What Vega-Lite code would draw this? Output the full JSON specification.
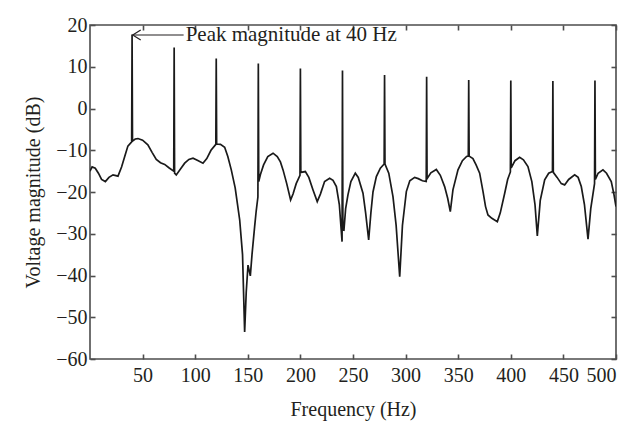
{
  "$schema": "https://vega.github.io/schema/vega-lite/v6.json",
  "width": 526,
  "height": 334,
  "autosize": "none",
  "padding": {"left": 90, "top": 25, "right": 21, "bottom": 62},
  "background": "white",
  "config": {
    "font": "Liberation Serif",
    "view": {"stroke": "#4d4d4d", "strokeWidth": 1.6},
    "axis": {
      "domain": false,
      "grid": false,
      "tickColor": "#4d4d4d",
      "tickWidth": 1.6,
      "tickSize": -5,
      "labelFont": "Liberation Serif",
      "labelFontSize": 20,
      "labelColor": "#231f20",
      "titleFont": "Liberation Serif",
      "titleFontSize": 20,
      "titleFontWeight": "normal",
      "titleColor": "#231f20"
    }
  },
  "datasets": {
    "spec": [
      {"f": 0, "v": -15}, {"f": 2, "v": -14}, {"f": 5, "v": -14.3}, {"f": 8, "v": -15.5}, {"f": 11, "v": -17},
      {"f": 14.6, "v": -17.5}, {"f": 18, "v": -16.5}, {"f": 21.9, "v": -15.9}, {"f": 26.6, "v": -16.2}, {"f": 30, "v": -14},
      {"f": 33, "v": -11.5}, {"f": 36, "v": -9}, {"f": 39.6, "v": -8}, {"f": 40, "v": 17.7}, {"f": 40.4, "v": -7.8},
      {"f": 43, "v": -7.3}, {"f": 45.6, "v": -7.2}, {"f": 50, "v": -7.6}, {"f": 55, "v": -8.7}, {"f": 59, "v": -10.5},
      {"f": 63, "v": -12.2}, {"f": 67, "v": -13}, {"f": 71, "v": -13.4}, {"f": 75, "v": -14.2}, {"f": 79.6, "v": -15},
      {"f": 80, "v": 14.6}, {"f": 80.4, "v": -15.5}, {"f": 82, "v": -15.9}, {"f": 86, "v": -14.5}, {"f": 90, "v": -13.1},
      {"f": 94, "v": -12.2}, {"f": 97.9, "v": -11.9}, {"f": 102, "v": -12.4}, {"f": 107.4, "v": -13.1}, {"f": 111, "v": -12},
      {"f": 115, "v": -10}, {"f": 119.6, "v": -8.6}, {"f": 120, "v": 12}, {"f": 120.4, "v": -8.5}, {"f": 124, "v": -8.6},
      {"f": 128, "v": -9.3}, {"f": 131, "v": -11.5}, {"f": 134.3, "v": -14.7}, {"f": 138, "v": -19}, {"f": 142.3, "v": -26.7},
      {"f": 145, "v": -35}, {"f": 147, "v": -53.5}, {"f": 148.5, "v": -44}, {"f": 150.2, "v": -37.5}, {"f": 151.5, "v": -39},
      {"f": 152.4, "v": -40.1}, {"f": 154, "v": -35}, {"f": 156.5, "v": -28.3}, {"f": 158, "v": -24.5}, {"f": 159.6, "v": -21.2},
      {"f": 160, "v": 10.8}, {"f": 160.4, "v": -17.5}, {"f": 162, "v": -15.8}, {"f": 165, "v": -13.5}, {"f": 169, "v": -11.5},
      {"f": 174, "v": -10.7}, {"f": 178, "v": -11.5}, {"f": 181, "v": -12.8}, {"f": 183.5, "v": -14.7}, {"f": 187, "v": -18},
      {"f": 190.7, "v": -21.9}, {"f": 193, "v": -20.5}, {"f": 196, "v": -18}, {"f": 199.6, "v": -16}, {"f": 200, "v": 9.6},
      {"f": 200.4, "v": -15.3}, {"f": 204.7, "v": -15.1}, {"f": 208, "v": -16.5}, {"f": 212, "v": -19.5}, {"f": 216, "v": -22.3},
      {"f": 219, "v": -20.5}, {"f": 223, "v": -17.5}, {"f": 227.8, "v": -16.7}, {"f": 231, "v": -17.2}, {"f": 234.2, "v": -18.7},
      {"f": 237, "v": -23}, {"f": 239.6, "v": -31.9}, {"f": 240, "v": 9.1}, {"f": 240.4, "v": -29}, {"f": 241.4, "v": -29.1},
      {"f": 243, "v": -24}, {"f": 245.2, "v": -20.7}, {"f": 248, "v": -17.5}, {"f": 252.2, "v": -15.5}, {"f": 255, "v": -16.5},
      {"f": 259.5, "v": -20.3}, {"f": 262, "v": -25}, {"f": 264.9, "v": -31.5}, {"f": 267, "v": -25}, {"f": 269, "v": -20},
      {"f": 272.2, "v": -16.3}, {"f": 276, "v": -14.3}, {"f": 279.6, "v": -13.3}, {"f": 280, "v": 8.0}, {"f": 280.4, "v": -13.3},
      {"f": 284, "v": -15.5}, {"f": 288, "v": -21.1}, {"f": 291, "v": -28}, {"f": 294.4, "v": -40.3}, {"f": 297, "v": -28},
      {"f": 300.7, "v": -19.9}, {"f": 304, "v": -17.3}, {"f": 308.6, "v": -16.5}, {"f": 312, "v": -16.8}, {"f": 316, "v": -17.3},
      {"f": 319.6, "v": -17.5}, {"f": 320, "v": 7.6}, {"f": 320.4, "v": -16.8}, {"f": 324, "v": -15.4}, {"f": 329.2, "v": -14.6},
      {"f": 333, "v": -16}, {"f": 337.1, "v": -18.7}, {"f": 340, "v": -21.5}, {"f": 342.5, "v": -24.7}, {"f": 345, "v": -19.5},
      {"f": 349.8, "v": -14.7}, {"f": 354, "v": -12.5}, {"f": 358, "v": -11.5}, {"f": 359.6, "v": -11.4}, {"f": 360, "v": 6.8},
      {"f": 360.4, "v": -11.4}, {"f": 364, "v": -12}, {"f": 367, "v": -13.5}, {"f": 370.4, "v": -15.5}, {"f": 373.6, "v": -19.9},
      {"f": 376, "v": -23.5}, {"f": 378.3, "v": -25.5}, {"f": 382, "v": -26.3}, {"f": 387.2, "v": -27.1}, {"f": 390, "v": -25},
      {"f": 394.2, "v": -20.3}, {"f": 397, "v": -17}, {"f": 399.6, "v": -15.2}, {"f": 400, "v": 6.7}, {"f": 400.4, "v": -14.2},
      {"f": 404, "v": -12.5}, {"f": 408.4, "v": -11.7}, {"f": 412, "v": -12.3}, {"f": 416.3, "v": -13.9}, {"f": 420, "v": -17.5},
      {"f": 423, "v": -23}, {"f": 425.2, "v": -30.5}, {"f": 428, "v": -22}, {"f": 432.2, "v": -17.1}, {"f": 436, "v": -15.5},
      {"f": 439.6, "v": -15.1}, {"f": 440, "v": 6.6}, {"f": 440.4, "v": -15.3}, {"f": 444, "v": -16.5}, {"f": 448, "v": -18},
      {"f": 451.2, "v": -18.3}, {"f": 455, "v": -17}, {"f": 460.7, "v": -15.9}, {"f": 464, "v": -16.5}, {"f": 467, "v": -18.7},
      {"f": 470, "v": -23}, {"f": 473.4, "v": -31.3}, {"f": 476, "v": -24}, {"f": 479.6, "v": -18}, {"f": 480, "v": 6.7},
      {"f": 480.4, "v": -17}, {"f": 483, "v": -15.5}, {"f": 487.6, "v": -14.7}, {"f": 491, "v": -15.5}, {"f": 495.5, "v": -17.5},
      {"f": 498, "v": -20.5}, {"f": 500, "v": -23.5}
    ],
    "ann": [
      {"x": 40.6, "x2": 89, "y": 17.6, "label": "Peak magnitude at 40 Hz"}
    ]
  },
  "layer": [
    {
      "data": {"name": "spec"},
      "mark": {"type": "line", "color": "#1a1a1a", "strokeWidth": 1.7, "clip": true},
      "encoding": {
        "x": {
          "field": "f", "type": "quantitative",
          "scale": {"domain": [0, 500], "nice": false, "zero": false},
          "axis": {"orient": "bottom", "values": [50, 100, 150, 200, 250, 300, 350, 400, 450, 500], "labelPadding": 11, "title": "Frequency (Hz)", "titlePadding": 14}
        },
        "y": {
          "field": "v", "type": "quantitative",
          "scale": {"domain": [-60, 20], "nice": false, "zero": false},
          "axis": {"orient": "left", "values": [-60, -50, -40, -30, -20, -10, 0, 10, 20], "labelPadding": 8, "title": "Voltage magnitude (dB)", "titlePadding": 12}
        }
      }
    },
    {
      "data": {"name": "ann"},
      "mark": {"type": "rule", "color": "#231f20", "strokeWidth": 1.2},
      "encoding": {
        "x": {"field": "x", "type": "quantitative", "axis": {"orient": "top", "values": [50, 100, 150, 200, 250, 300, 350, 400, 450, 500], "labels": false, "title": null}},
        "x2": {"field": "x2"},
        "y": {"field": "y", "type": "quantitative", "axis": {"orient": "right", "values": [-60, -50, -40, -30, -20, -10, 0, 10, 20], "labels": false, "title": null}}
      }
    },
    {
      "data": {"name": "ann"},
      "mark": {"type": "point", "shape": "M1.6,-1L0,0L1.6,1", "filled": false, "size": 100, "color": "#231f20", "strokeWidth": 1.2, "opacity": 1},
      "encoding": {
        "x": {"field": "x", "type": "quantitative", "axis": null},
        "y": {"field": "y", "type": "quantitative", "axis": null}
      }
    },
    {
      "data": {"name": "ann"},
      "mark": {"type": "text", "align": "left", "baseline": "middle", "dx": 2, "font": "Liberation Serif", "fontSize": 21, "color": "#231f20"},
      "encoding": {
        "x": {"field": "x2", "type": "quantitative", "axis": null},
        "y": {"field": "y", "type": "quantitative", "axis": null},
        "text": {"field": "label"}
      }
    }
  ],
  "resolve": {"axis": {"x": "independent", "y": "independent"}}
}
